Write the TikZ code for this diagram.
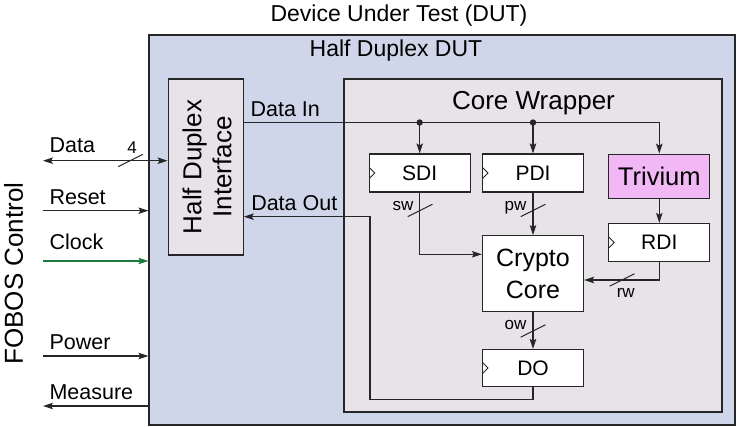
\documentclass[tikz,border=0pt]{standalone}
\usepackage{fontspec}
\setmainfont{Liberation Sans}
\usetikzlibrary{arrows.meta}
\definecolor{dutblue}{HTML}{D0D6EA}
\definecolor{wrapgray}{HTML}{E7E3E8}
\definecolor{trivpink}{HTML}{F2B8F6}
\definecolor{clkgreen}{HTML}{1B7A3C}
\tikzset{
	frame/.style = {draw=black!85, line width=1.2pt, inner sep=0pt},
	box/.style = {frame, fill=white, minimum width=101pt, font=\fontsize{21}{25}\selectfont},
	reg/.style = {box, minimum height=38pt, path picture={\draw[line width=0.9pt] ([yshift=5.5pt]path picture bounding box.west) -- ++(5.5pt,-5.5pt) -- ++(-5.5pt,-5.5pt);}},
	sig/.style = {anchor=base west, inner sep=0pt, font=\fontsize{21.5}{25}\selectfont},
	wl/.style = {anchor=base, inner sep=0pt, font=\fontsize{17}{20}\selectfont},
	title/.style = {anchor=base, inner sep=0pt, font=\fontsize{23}{27}\selectfont},
	slash/.style = {inner sep=0pt, minimum width=25pt, minimum height=12.5pt, path picture={\draw[line width=1.1pt] (path picture bounding box.south west) -- (path picture bounding box.north east);}}
}
\begin{document}
\begin{tikzpicture}[x=1pt, y=-1pt, line width=1.1pt, draw=black!85, >={Stealth[length=10pt,width=6.5pt,inset=2pt]}]
	\useasboundingbox (0,0) rectangle (737,427);
	% containers
	\node[frame, fill=dutblue, minimum width=586pt, minimum height=390pt] (dut) at (442,230) {};
	\node[frame, fill=wrapgray, minimum width=378pt, minimum height=333pt] (wrap) at (533,245.5) {};
	\node[frame, fill=wrapgray, minimum width=75pt, minimum height=176pt] (hdi) at (205.7,167) {};
	\node[title] (tdut) at (399,22) {Device Under Test (DUT)};
	\node[title] (thalf) at (396,56.5) {Half Duplex DUT};
	\node[title, font=\fontsize{26}{30}\selectfont] (twrap) at (533.5,109.3) {Core Wrapper};
	\node[rotate=90, align=center, font=\fontsize{26}{30}\selectfont] (thdi) at (207,167) {Half Duplex\\Interface};
	\node[rotate=90, anchor=base, inner sep=0pt, font=\fontsize{26}{30}\selectfont] (tfobos) at (23,273.5) {FOBOS Control};
	% blocks
	\node[reg] (sdi) at (419.7,173) {SDI};
	\node[reg] (pdi) at (533,173) {PDI};
	\node[box, fill=trivpink, minimum height=44pt, font=\fontsize{25.5}{30}\selectfont] (triv) at (659.3,176.2) {Trivium};
	\node[reg] (rdi) at (659.3,242.5) {RDI};
	\node[box, minimum height=76pt, align=center, font=\fontsize{25}{31.6}\selectfont] (core) at (533,273.7) {Crypto\\Core};
	\node[reg, minimum height=37pt] (do) at (533,368) {DO};
	% data in
	\coordinate (jsdi) at (sdi.north |- 0,122.5);
	\coordinate (jpdi) at (pdi.north |- 0,122.5);
	\draw[->] (hdi.east |- jsdi) -| (triv.north);
	\draw[->] (jsdi) -- (sdi.north);
	\draw[->] (jpdi) -- (pdi.north);
	\fill[black!85] (jsdi) circle (3.2pt);
	\fill[black!85] (jpdi) circle (3.2pt);
	\node[sig] (tin) at (250,116.7) {Data In};
	% core paths
	\draw[->] (sdi.south) |- (core.west |- 0,254.3);
	\draw[->] (pdi.south) -- (core.north);
	\draw[->] (triv.south) -- (rdi.north);
	\draw[->] (rdi.south) |- (core.east |- 0,280);
	\draw[->] (core.south) -- (do.north);
	\coordinate (loop) at (370,399.3);
	\draw[->] (do.south) |- (loop) |- (hdi.east |- 0,216.7);
	\node[sig] (tout) at (250.7,211) {Data Out};
	% bus widths
	\node[slash] (sws) at (420,210.5) {};
	\node[wl] (swl) at (403,211) {sw};
	\node[slash] (pws) at (533,210.5) {};
	\node[wl] (pwl) at (515.5,211) {pw};
	\node[slash] (rws) at (622,280) {};
	\node[wl] (rwl) at (625.8,297.7) {rw};
	\node[slash] (ows) at (533,331) {};
	\node[wl] (owl) at (515.5,330) {ow};
	% fobos signals
	\coordinate (datal) at (43,160.7);
	\draw[<->] (datal) -- (datal -| hdi.west);
	\node[slash] (ds) at (130.5,160.5) {};
	\node[wl] (dwl) at (132,153.3) {4};
	\node[sig] (tdata) at (49,153) {Data};
	\coordinate (resetl) at (43,210.7);
	\draw[->] (resetl) -- (resetl -| dut.west);
	\node[sig] (treset) at (49,205) {Reset};
	\coordinate (clockl) at (43,261);
	\draw[->, draw=clkgreen, fill=clkgreen] (clockl) -- (clockl -| dut.west);
	\node[sig] (tclock) at (49,249.3) {Clock};
	\coordinate (powerl) at (43,356);
	\draw[->] (powerl) -- (powerl -| dut.west);
	\node[sig] (tpower) at (49,350) {Power};
	\coordinate (measl) at (43,406);
	\draw[<-] (measl) -- (measl -| dut.west);
	\node[sig] (tmeas) at (49,400) {Measure};
\end{tikzpicture}
\end{document}
